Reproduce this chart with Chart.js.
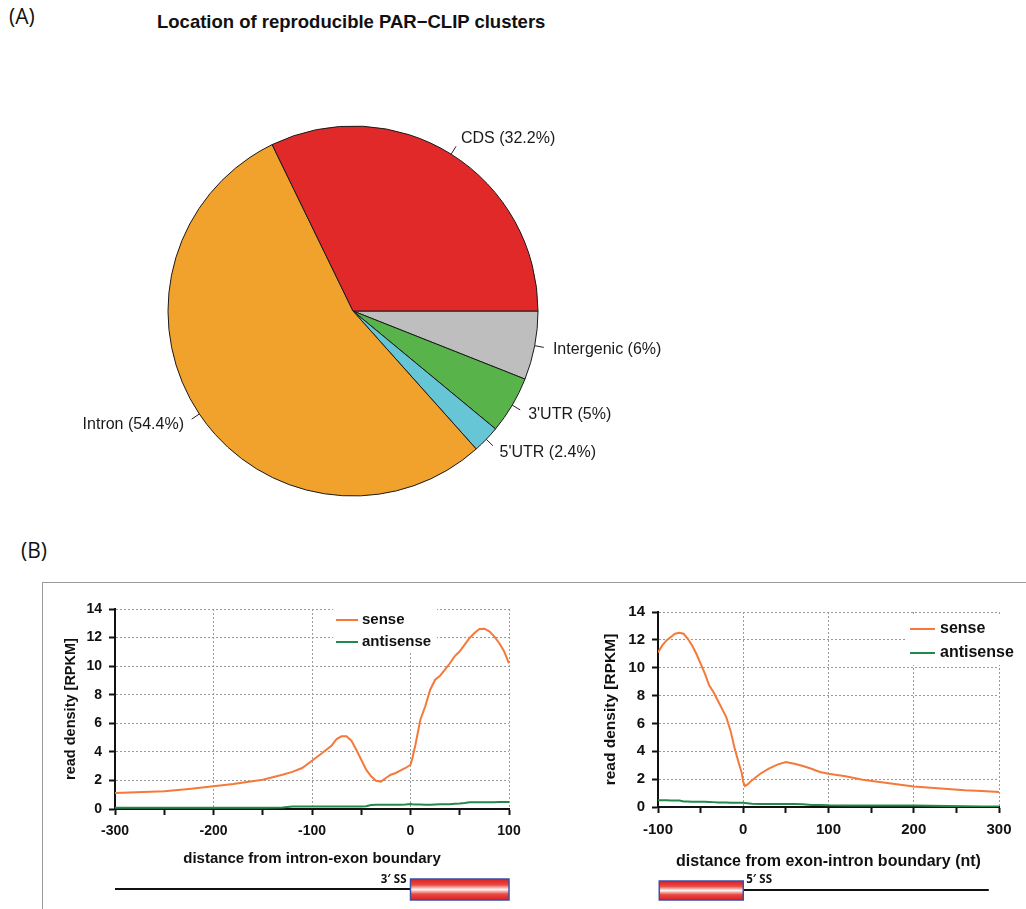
<!DOCTYPE html>
<html>
<head>
<meta charset="utf-8">
<script src="https://cdn.jsdelivr.net/npm/chart.js@4/dist/chart.umd.min.js"></script>
<style>
  body { margin: 0; background: #fff; width: 1026px; height: 909px; position: relative; overflow: hidden; }
  canvas { position: absolute; }
  .tag { position: absolute; font-family: "Open Sans", sans-serif; font-size: 21px; color: #111; }
  #title { position: absolute; left: 157px; top: 11px; font: bold 18.5px "Liberation Sans", Arial, sans-serif; color: #111; white-space: nowrap; }
  #panelB { position: absolute; left: 42px; top: 582px; width: 1100px; height: 400px; border: 1px solid #9a9a9a; }
</style>
</head>
<body>
<div class="tag" style="left:9px; top:2px;">(A)</div>
<div id="title">Location of reproducible PAR&minus;CLIP clusters</div>
<div class="tag" style="left:21px; top:536px;">(B)</div>
<div id="panelB"></div>
<canvas id="pie" width="1026" height="540" style="left:0; top:0;"></canvas>
<canvas id="left" width="486" height="326" style="left:44px; top:583px;"></canvas>
<canvas id="right" width="486" height="326" style="left:540px; top:583px;"></canvas>
<script>
// pie: clockwise from 3 o'clock
const regions = ["Intergenic", "3'UTR", "5'UTR", "Intron", "CDS"];
const regionPct = [6, 5, 2.4, 54.4, 32.2];
const regionColors = ["#bebebe", "#58b44a", "#66c6d6", "#f0a22d", "#e22929"];

// 3' splice site profile (intron -> exon)
const pos3 = [-300, -250, -225, -200, -180, -150, -130, -120, -110, -100, -90, -80, -75, -70, -65, -60, -55, -50, -45, -40, -35, -30, -25, -20, -15, -10, -5, 0, 2, 5, 10, 15, 20, 25, 30, 35, 40, 45, 50, 55, 60, 65, 70, 75, 80, 85, 90, 95, 100];
const sense3 = [1.12, 1.24, 1.4, 1.59, 1.75, 2.05, 2.4, 2.6, 2.87, 3.38, 3.9, 4.45, 4.9, 5.09, 5.09, 4.78, 4.15, 3.45, 2.75, 2.29, 1.98, 1.92, 2.17, 2.4, 2.52, 2.7, 2.87, 3.1, 3.57, 4.5, 6.25, 7.19, 8.35, 9.05, 9.33, 9.75, 10.2, 10.7, 11.04, 11.5, 11.97, 12.32, 12.6, 12.62, 12.44, 12.09, 11.62, 11.04, 10.2];
const anti3 = [0.08, 0.08, 0.08, 0.08, 0.08, 0.08, 0.1, 0.17, 0.17, 0.17, 0.17, 0.17, 0.17, 0.17, 0.17, 0.17, 0.17, 0.18, 0.2, 0.28, 0.3, 0.3, 0.3, 0.3, 0.3, 0.3, 0.32, 0.35, 0.33, 0.32, 0.32, 0.3, 0.3, 0.32, 0.33, 0.33, 0.34, 0.36, 0.38, 0.42, 0.47, 0.48, 0.48, 0.48, 0.48, 0.48, 0.49, 0.49, 0.49];

// 5' splice site profile (exon -> intron)
const pos5 = [-100, -95, -90, -85, -80, -75, -70, -65, -60, -55, -50, -45, -40, -35, -30, -25, -20, -15, -10, -5, -2, 0, 2, 5, 10, 20, 30, 40, 50, 60, 70, 80, 90, 100, 120, 140, 160, 180, 200, 220, 240, 260, 280, 300];
const sense5 = [11.1, 11.6, 11.96, 12.2, 12.44, 12.5, 12.44, 12.08, 11.6, 11.0, 10.29, 9.57, 8.73, 8.26, 7.66, 7.06, 6.46, 5.5, 4.19, 3.11, 2.5, 1.8, 1.5, 1.62, 1.91, 2.39, 2.75, 3.04, 3.23, 3.11, 2.94, 2.75, 2.51, 2.39, 2.2, 1.96, 1.79, 1.63, 1.48, 1.39, 1.29, 1.2, 1.15, 1.08];
const anti5 = [0.48, 0.48, 0.48, 0.47, 0.47, 0.46, 0.4, 0.39, 0.38, 0.38, 0.37, 0.37, 0.36, 0.35, 0.33, 0.32, 0.32, 0.31, 0.31, 0.31, 0.31, 0.31, 0.28, 0.27, 0.24, 0.22, 0.22, 0.22, 0.22, 0.21, 0.2, 0.15, 0.14, 0.12, 0.11, 0.11, 0.1, 0.1, 0.1, 0.09, 0.08, 0.05, 0.04, 0.03];

const yTicks = [0, 2, 4, 6, 8, 10, 12, 14];

Chart.defaults.font.family = '"Liberation Sans", Arial, sans-serif';
Chart.defaults.color = "#111";
Chart.defaults.animation = false;

// R-style pie labels: tick from r to 1.05r, text at 1.1r
const pieLabels = {
  id: "pieLabels",
  afterDraw(chart) {
    const ctx = chart.ctx;
    const meta = chart.getDatasetMeta(0);
    ctx.save();
    ctx.font = '16px "Liberation Sans", Arial, sans-serif';
    ctx.fillStyle = "#1a1a1a";
    ctx.strokeStyle = "#222";
    ctx.lineWidth = 1;
    ctx.textBaseline = "middle";
    meta.data.forEach((arc, i) => {
      const { x, y, startAngle, endAngle, outerRadius } = arc.getProps(["x", "y", "startAngle", "endAngle", "outerRadius"]);
      const mid = (startAngle + endAngle) / 2;
      const c = Math.cos(mid), s = Math.sin(mid);
      ctx.beginPath();
      ctx.moveTo(x + c * outerRadius, y + s * outerRadius);
      ctx.lineTo(x + c * outerRadius * 1.05, y + s * outerRadius * 1.05);
      ctx.stroke();
      ctx.textAlign = c < 0 ? "right" : "left";
      ctx.fillText(chart.data.labels[i], x + c * outerRadius * 1.1, y + s * outerRadius * 1.1);
    });
    ctx.restore();
  }
};

new Chart(document.getElementById("pie"), {
  type: "pie",
  data: {
    labels: regions.map((r, i) => `${r} (${regionPct[i]}%)`),
    datasets: [{
      data: regionPct,
      backgroundColor: regionColors,
      borderColor: "#1a1a1a",
      borderWidth: 1
    }]
  },
  options: {
    responsive: false,
    rotation: 90,
    radius: 185,
    layout: { padding: { left: 153, right: 473, top: 111, bottom: 29 } },
    plugins: { legend: { display: false }, tooltip: { enabled: false } }
  },
  plugins: [pieLabels]
});

// legend drawn inside the plot, on a white patch
const insideLegend = {
  id: "insideLegend",
  afterDatasetsDraw(chart, args, o) {
    const { ctx, chartArea: a } = chart;
    const x0 = a.right - o.fromRight;
    ctx.save();
    ctx.fillStyle = "#fff";
    ctx.fillRect(x0 + o.box[0], a.top + o.box[1], o.box[2], o.box[3]);
    ctx.font = o.font;
    ctx.textBaseline = "middle";
    ctx.textAlign = "left";
    chart.data.datasets.forEach((ds, i) => {
      const y = a.top + o.top + i * o.rowHeight;
      ctx.strokeStyle = ds.borderColor;
      ctx.lineWidth = 2;
      ctx.beginPath();
      ctx.moveTo(x0, y);
      ctx.lineTo(x0 + o.lineLength, y);
      ctx.stroke();
      ctx.fillStyle = "#111";
      ctx.fillText(ds.label, x0 + o.textGap, y);
    });
    ctx.restore();
  }
};

// intron line + exon box under the x axis
const geneSketch = {
  id: "geneSketch",
  afterDraw(chart, args, o) {
    const { ctx } = chart;
    const xs = chart.scales.x;
    const px = v => xs.getPixelForValue(v);
    ctx.save();
    ctx.strokeStyle = "#111";
    ctx.lineWidth = 2;
    ctx.beginPath();
    ctx.moveTo(px(o.intron[0]), o.lineY);
    ctx.lineTo(px(o.intron[1]), o.lineY);
    ctx.stroke();
    const x0 = px(o.exon[0]), x1 = px(o.exon[1]);
    const g = ctx.createLinearGradient(0, o.boxTop, 0, o.boxBottom);
    g.addColorStop(0, "#d91f25");
    g.addColorStop(0.28, "#e94a42");
    g.addColorStop(0.5, "#fff6f2");
    g.addColorStop(0.72, "#e94a42");
    g.addColorStop(1, "#d91f25");
    ctx.fillStyle = g;
    ctx.fillRect(x0, o.boxTop, x1 - x0, o.boxBottom - o.boxTop);
    ctx.strokeStyle = "#3d4fa3";
    ctx.lineWidth = 1.5;
    ctx.strokeRect(x0, o.boxTop, x1 - x0, o.boxBottom - o.boxTop);
    ctx.font = 'bold 11.5px "Open Sans", sans-serif';
    ctx.fillStyle = "#111";
    ctx.textBaseline = "alphabetic";
    if (o.labelSide === "left") {
      ctx.textAlign = "right";
      ctx.fillText(o.label, x0 - 4, o.labelY);
    } else {
      ctx.textAlign = "left";
      ctx.fillText(o.label, x1 + 3, o.labelY);
    }
    ctx.restore();
  }
};

function profileChart(id, pos, sense, anti, cfg) {
  return new Chart(document.getElementById(id), {
    type: "line",
    data: {
      datasets: [
        { label: "sense", data: pos.map((x, i) => ({ x, y: sense[i] })), borderColor: "#f5793a", borderWidth: 2, pointRadius: 0, tension: 0 },
        { label: "antisense", data: pos.map((x, i) => ({ x, y: anti[i] })), borderColor: "#23894a", borderWidth: 2, pointRadius: 0, tension: 0 }
      ]
    },
    options: {
      responsive: false,
      layout: { padding: { left: 0, right: cfg.padRight, top: cfg.padTop, bottom: 0 } },
      plugins: {
        legend: { display: false },
        tooltip: { enabled: false },
        insideLegend: cfg.legend,
        geneSketch: cfg.gene
      },
      scales: {
        x: {
          type: "linear",
          min: cfg.xMin,
          max: cfg.xMax,
          afterFit: s => { s.height = cfg.xHeight; },
          afterBuildTicks: s => { s.ticks = cfg.xTicks.map(v => ({ value: v })); },
          ticks: {
            font: { size: cfg.tickSize, weight: "bold" },
            color: "#111",
            padding: 8,
            maxRotation: 0,
            autoSkip: false,
            callback: v => (v % 100 === 0 ? v : "")
          },
          grid: {
            color: c => (c.tick && c.tick.value % 100 === 0 ? "#9a9a9a" : "rgba(0,0,0,0)"),
            lineWidth: 1,
            tickColor: "#111",
            tickLength: 6,
            tickWidth: 2
          },
          border: { display: true, color: "#111", width: 2, dash: [2, 2] },
          title: {
            display: true,
            text: cfg.xTitle,
            font: { size: cfg.titleSize, weight: "bold" },
            color: "#111",
            padding: { top: 0, bottom: cfg.xTitlePad }
          }
        },
        y: {
          min: 0,
          max: 14,
          afterFit: s => { s.width = cfg.yWidth; },
          afterBuildTicks: s => { s.ticks = yTicks.map(v => ({ value: v })); },
          ticks: { font: { size: cfg.tickSize, weight: "bold" }, color: "#111", padding: 7 },
          grid: { color: "#9a9a9a", lineWidth: 1, tickColor: "#111", tickLength: 6, tickWidth: 2 },
          border: { display: true, color: "#111", width: 2, dash: [2, 2] },
          title: {
            display: true,
            text: "read density [RPKM]",
            font: { size: cfg.yTitleSize, weight: "bold" },
            color: "#111",
            padding: { top: cfg.yTitlePad, bottom: 0 }
          }
        }
      }
    },
    plugins: [insideLegend, geneSketch]
  });
}

profileChart("left", pos3, sense3, anti3, {
  xMin: -300, xMax: 100,
  xTicks: [-300, -250, -200, -150, -100, -50, 0, 50, 100],
  xTitle: "distance from intron-exon boundary",
  padRight: 21, padTop: 26, xHeight: 100, yWidth: 71,
  tickSize: 14, titleSize: 15, yTitleSize: 14.5, xTitlePad: 41, yTitlePad: 18,
  legend: { fromRight: 173, lineLength: 22, textGap: 26, top: 11, rowHeight: 22, box: [-3, -2, 104, 45], font: 'bold 15px "Liberation Sans", Arial, sans-serif' },
  gene: { intron: [-300, 0], exon: [0, 100], lineY: 306, boxTop: 296, boxBottom: 317, label: "3\u2032 SS", labelSide: "left", labelY: 300 }
});

profileChart("right", pos5, sense5, anti5, {
  xMin: -100, xMax: 300,
  xTicks: [-100, -50, 0, 50, 100, 150, 200, 250, 300],
  xTitle: "distance from exon-intron boundary (nt)",
  padRight: 27, padTop: 29, xHeight: 102, yWidth: 118,
  tickSize: 15, titleSize: 16, yTitleSize: 15.5, xTitlePad: 38, yTitlePad: 61,
  legend: { fromRight: 89, lineLength: 25, textGap: 30, top: 17, rowHeight: 24, box: [-5, 3, 125, 50], font: 'bold 16px "Liberation Sans", Arial, sans-serif' },
  gene: { intron: [0, 288], exon: [-98.5, 0], lineY: 307, boxTop: 298, boxBottom: 317, label: "5\u2032 SS", labelSide: "right", labelY: 300 }
});
</script>
</body>
</html>
